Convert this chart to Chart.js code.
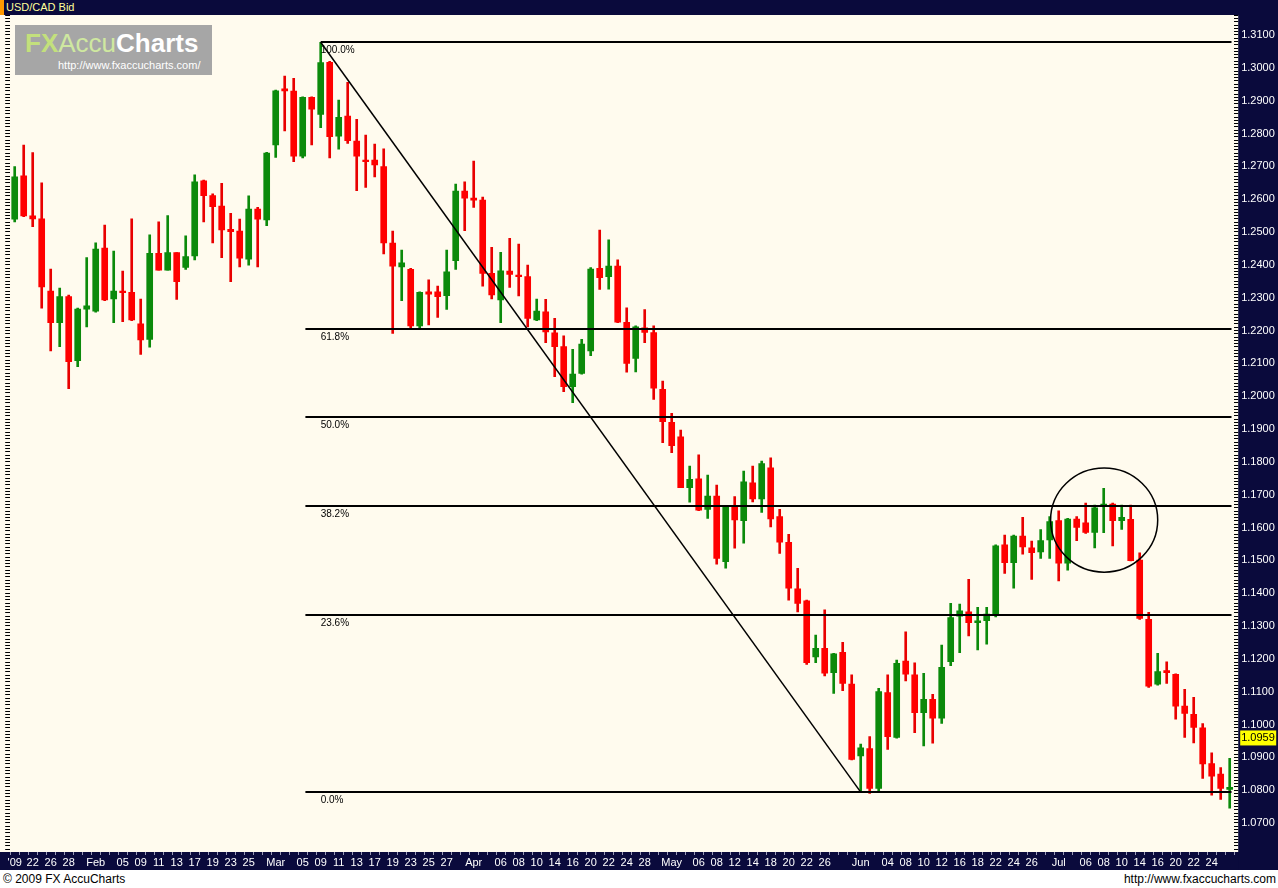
<!DOCTYPE html>
<html>
<head>
<meta charset="utf-8">
<script src="https://cdn.jsdelivr.net/npm/chart.js@4.4.1/dist/chart.umd.min.js"></script>
<style>
    body { margin: 0; width: 1278px; height: 888px; overflow: hidden; background: #fff; position: relative; font-family: 'Liberation Sans', Arial, sans-serif; }
    #title { position: absolute; left: 0; top: 0; width: 1278px; height: 15px; background: #0a0a3c; }
    #title .mark { position: absolute; left: 0; top: 0; width: 4px; height: 15px; background: #ff9a00; }
    #title span { position: absolute; left: 6px; top: 1px; font-size: 11px; line-height: 13px; color: #ffff99; }
    #wrap { position: absolute; left: 0; top: 15px; width: 1278px; height: 855px; }
    #logo { position: absolute; left: 15px; top: 25px; width: 197px; height: 50px; background: #a6a6a6; z-index: 2; }
    #logo .name { position: absolute; left: 10px; top: 4px; font-size: 26px; line-height: 28px; white-space: nowrap; }
    #logo .fx { color: #c3e07c; font-weight: bold; }
    #logo .accu { color: #cfe8a0; }
    #logo .charts { color: #fff; font-weight: bold; }
    #logo .url { position: absolute; left: 43px; top: 34px; font-size: 11px; color: #fff; white-space: nowrap; }
    #foot { position: absolute; left: 0; top: 870px; width: 1278px; height: 18px; background: #fff; font-size: 12px; color: #000; }
    #foot .l { position: absolute; left: 3px; top: 2px; }
    #foot .r { position: absolute; right: 2px; top: 2px; }
</style>
</head>
<body>
<div id="title"><div class="mark"></div><span>USD/CAD Bid</span></div>
<div id="wrap"><canvas id="usdcad"></canvas></div>
<div id="logo">
    <div class="name"><span class="fx">FX</span><span class="accu">Accu</span><span class="charts">Charts</span></div>
    <div class="url">http://www.fxaccucharts.com/</div>
</div>
<div id="foot"><span class="l">© 2009 FX AccuCharts</span><span class="r">http://www.fxaccucharts.com</span></div>
<script>
// napi gyertyák, 2009. jan. 20. - júl. 28.
const opens = [
    1.2539, 1.2671, 1.2549, 1.2540, 1.2320, 1.2224, 1.2303, 1.2108, 1.2265, 1.2259,
    1.2451, 1.2296, 1.2320, 1.2316, 1.2220, 1.2173, 1.2435, 1.2384, 1.2437, 1.2392,
    1.2427, 1.2656, 1.2611, 1.2579, 1.2508, 1.2503, 1.2417, 1.2570, 1.2537, 1.2765,
    1.2936, 1.2929, 1.2731, 1.2910, 1.2858, 1.3017, 1.2792, 1.2853, 1.2777, 1.2719,
    1.2719, 1.2699, 1.2466, 1.2394, 1.2386, 1.2214, 1.2318, 1.2318, 1.2306, 1.2413,
    1.2625, 1.2603, 1.2597, 1.2374, 1.2293, 1.2381, 1.2369, 1.2364, 1.2232, 1.2257,
    1.2193, 1.2151, 1.2029, 1.2069, 1.2138, 1.2389, 1.2364, 1.2396, 1.2225, 1.2115,
    1.2208, 1.2194, 1.2021, 1.1920, 1.1876, 1.1721, 1.1748, 1.1655, 1.1696, 1.1496,
    1.1663, 1.1621, 1.1736, 1.1687, 1.1782, 1.1633, 1.1555, 1.1413, 1.1377, 1.1206,
    1.1232, 1.1158, 1.1220, 1.1123, 1.0904, 1.0927, 1.0805, 1.1097, 1.0961, 1.1193,
    1.1151, 1.1036, 1.1077, 1.1019, 1.1191, 1.1330, 1.1343, 1.1310, 1.1316, 1.1336,
    1.1547, 1.1493, 1.1574, 1.1538, 1.1526, 1.1562, 1.1621, 1.1491, 1.1626, 1.1614,
    1.1585, 1.1665, 1.1671, 1.1621, 1.1625, 1.1501, 1.1320, 1.1123, 1.1164, 1.1153,
    1.1056, 1.1031, 1.0990, 1.0881, 1.0849, 1.0802,
];
const highs = [
    1.2699, 1.2765, 1.2742, 1.2650, 1.2387, 1.2329, 1.2308, 1.2268, 1.2422, 1.2467,
    1.2521, 1.2442, 1.2381, 1.2540, 1.2296, 1.2491, 1.2531, 1.2550, 1.2437, 1.2488,
    1.2674, 1.2658, 1.2616, 1.2648, 1.2557, 1.2539, 1.2610, 1.2575, 1.2743, 1.2932,
    1.2975, 1.2968, 1.2912, 1.2912, 1.3078, 1.3020, 1.2902, 1.2956, 1.2843, 1.2795,
    1.2768, 1.2753, 1.2503, 1.2445, 1.2389, 1.2318, 1.2354, 1.2335, 1.2445, 1.2646,
    1.2653, 1.2716, 1.2606, 1.2453, 1.2438, 1.2481, 1.2463, 1.2399, 1.2296, 1.2295,
    1.2237, 1.2184, 1.2143, 1.2173, 1.2392, 1.2506, 1.2476, 1.2415, 1.2269, 1.2214,
    1.2264, 1.2214, 1.2046, 1.1948, 1.1897, 1.1787, 1.1821, 1.1760, 1.1729, 1.1666,
    1.1694, 1.1772, 1.1787, 1.1802, 1.1812, 1.1655, 1.1579, 1.1476, 1.1379, 1.1272,
    1.1349, 1.1217, 1.1250, 1.1151, 1.0940, 1.0963, 1.1110, 1.1151, 1.1196, 1.1282,
    1.1188, 1.1156, 1.1092, 1.1242, 1.1369, 1.1367, 1.1442, 1.1357, 1.1357, 1.1547,
    1.1577, 1.1577, 1.1631, 1.1559, 1.1594, 1.1633, 1.1651, 1.1628, 1.1633, 1.1674,
    1.1668, 1.1719, 1.1674, 1.1668, 1.1668, 1.1523, 1.1342, 1.1217, 1.1191, 1.1154,
    1.1107, 1.1083, 1.1003, 1.0914, 1.0869, 1.0897,
];
const lows = [
    1.2531, 1.2547, 1.2516, 1.2268, 1.2138, 1.2151, 1.2023, 1.2090, 1.2211, 1.2256,
    1.2291, 1.2224, 1.2227, 1.2230, 1.2127, 1.2149, 1.2384, 1.2384, 1.2295, 1.2386,
    1.2415, 1.2531, 1.2467, 1.2422, 1.2349, 1.2394, 1.2399, 1.2394, 1.2519, 1.2727,
    1.2808, 1.2714, 1.2726, 1.2765, 1.2818, 1.2726, 1.2752, 1.2770, 1.2626, 1.2636,
    1.2668, 1.2433, 1.2191, 1.2291, 1.2207, 1.2207, 1.2217, 1.2240, 1.2264, 1.2386,
    1.2504, 1.2575, 1.2335, 1.2296, 1.2224, 1.2331, 1.2305, 1.2211, 1.2230, 1.2163,
    1.2059, 1.2014, 1.1980, 1.2067, 1.2123, 1.2325, 1.2326, 1.2224, 1.2073, 1.2074,
    1.2163, 1.1990, 1.1858, 1.1828, 1.1721, 1.1677, 1.1651, 1.1628, 1.1488, 1.1476,
    1.1537, 1.1552, 1.1678, 1.1646, 1.1602, 1.1521, 1.1379, 1.1343, 1.1183, 1.1188,
    1.1148, 1.1095, 1.1103, 1.0892, 1.0794, 1.0790, 1.0792, 1.0924, 1.0958, 1.1133,
    1.0975, 1.0935, 1.0943, 1.1003, 1.1179, 1.1219, 1.1270, 1.1227, 1.1245, 1.1328,
    1.1460, 1.1415, 1.1519, 1.1442, 1.1506, 1.1506, 1.1437, 1.1470, 1.1560, 1.1582,
    1.1538, 1.1584, 1.1544, 1.1594, 1.1498, 1.1320, 1.1113, 1.1120, 1.1125, 1.1016,
    1.0961, 1.0944, 1.0836, 1.0785, 1.0772, 1.0745,
];
const closes = [
    1.2668, 1.2549, 1.2540, 1.2333, 1.2224, 1.2303, 1.2105, 1.2265, 1.2275, 1.2448,
    1.2293, 1.2320, 1.2315, 1.2232, 1.2171, 1.2435, 1.2384, 1.2437, 1.2349, 1.2425,
    1.2653, 1.2611, 1.2577, 1.2506, 1.2501, 1.2420, 1.2570, 1.2539, 1.2740, 1.2930,
    1.2930, 1.2731, 1.2910, 1.2874, 1.3016, 1.2790, 1.2849, 1.2778, 1.2731, 1.2714,
    1.2704, 1.2467, 1.2396, 1.2406, 1.2214, 1.2316, 1.2311, 1.2303, 1.2379, 1.2625,
    1.2603, 1.2597, 1.2374, 1.2308, 1.2382, 1.2371, 1.2364, 1.2237, 1.2259, 1.2196,
    1.2151, 1.2029, 1.2067, 1.2159, 1.2387, 1.2361, 1.2396, 1.2225, 1.2100, 1.2211,
    1.2194, 1.2024, 1.1922, 1.1849, 1.1721, 1.1747, 1.1653, 1.1696, 1.1506, 1.1663,
    1.1623, 1.1739, 1.1687, 1.1795, 1.1626, 1.1555, 1.1415, 1.1369, 1.1188, 1.1232,
    1.1156, 1.1215, 1.1125, 1.0894, 1.0929, 1.0805, 1.1100, 1.0963, 1.1186, 1.1153,
    1.1036, 1.1077, 1.1019, 1.1174, 1.1326, 1.1346, 1.1310, 1.1316, 1.1336, 1.1544,
    1.1493, 1.1574, 1.1541, 1.1523, 1.1560, 1.1618, 1.1491, 1.1626, 1.1600, 1.1585,
    1.1660, 1.1671, 1.1621, 1.1631, 1.1499, 1.1323, 1.1117, 1.1161, 1.1158, 1.1056,
    1.1034, 1.0991, 1.0880, 1.0843, 1.0805, 1.0809,
];

// x tengely feliratai (gyertya sorszáma -> szöveg)
const tickIndex = [0, 2, 4, 6, 9, 12, 14, 16, 18, 20, 22, 24, 26, 29, 32, 34, 36, 38, 40, 42, 44, 46, 48,
    51, 54, 56, 58, 60, 62, 64, 66, 68, 70, 73, 76, 78, 80, 82, 84, 86, 88, 90,
    94, 97, 99, 101, 103, 105, 107, 109, 111, 113, 116, 119, 121, 123, 125, 127, 129, 131, 133];
const tickText = ["'09", '22', '26', '28', 'Feb', '05', '09', '11', '13', '17', '19', '23', '25', 'Mar', '05', '09', '11', '13', '17', '19', '23', '25', '27',
    'Apr', '06', '08', '10', '14', '16', '20', '22', '24', '28', 'May', '06', '08', '12', '14', '18', '20', '22', '26',
    'Jun', '04', '08', '10', '12', '16', '18', '22', '24', '26', 'Jul', '06', '08', '10', '14', '16', '20', '22', '24'];

const priceTicks = [1.07, 1.08, 1.09, 1.10, 1.11, 1.12, 1.13, 1.14, 1.15, 1.16, 1.17, 1.18, 1.19,
    1.20, 1.21, 1.22, 1.23, 1.24, 1.25, 1.26, 1.27, 1.28, 1.29, 1.30, 1.31];

// Fibonacci visszatérés
const fibHigh = 1.3078;
const fibLow = 1.0794;
const fibRatios = [1, 0.618, 0.5, 0.382, 0.236, 0];
const fibLabels = ['100.0%', '61.8%', '50.0%', '38.2%', '23.6%', '0.0%'];
const trendFrom = 34;
const trendTo = 94;
const circleX = [115.1, 127.0];
const circleY = [1.1464, 1.1781];
const lastPrice = 1.0959;

const labels = opens.map(() => '');
tickIndex.forEach((idx, k) => { labels[idx] = tickText[k]; });

const green = '#0b8a0b';
const red = '#ff0000';
const candleColor = c => closes[c.dataIndex] >= opens[c.dataIndex] ? green : red;
const wickColor = c => closes[c.dataIndex] >= opens[c.dataIndex] ? green : '#e80000';

const yMax = 1.316091;
const yMin = 1.061167;
// sűrű osztásjelek, felirat csak a kerek árakon
const axisTicks = [];
for (let k = Math.ceil(yMin * 1000); k <= Math.floor(yMax * 1000); k++) {
    axisTicks.push({ value: k / 1000 });
}
const isMajor = v => priceTicks.some(p => Math.abs(p - v) < 1e-7);
const tickLabel = v => isMajor(v) ? v.toFixed(4) : '';
const noPad = s => { s.paddingTop = 0; s.paddingBottom = 0; };

Chart.defaults.font.family = "'Liberation Sans', Arial, sans-serif";
Chart.defaults.font.size = 11;

const backdrop = {
    id: 'backdrop',
    beforeDraw(chart) {
        const { ctx, chartArea, width, height } = chart;
        ctx.save();
        ctx.fillStyle = '#fffbee';
        ctx.fillRect(0, 0, width, height);
        ctx.fillStyle = '#0a0a3c';
        ctx.fillRect(0, chartArea.bottom, width, height - chartArea.bottom);
        ctx.fillRect(chartArea.right + 4, 0, width - chartArea.right - 4, height);
        ctx.restore();
    },
};

const fibonacci = {
    id: 'fibonacci',
    afterDatasetsDraw(chart) {
        const { ctx, scales } = chart;
        const x = scales.x;
        const y = scales.y;
        ctx.save();
        ctx.strokeStyle = '#000';
        ctx.fillStyle = '#000';
        ctx.font = "10px 'Liberation Sans', Arial, sans-serif";
        ctx.textBaseline = 'middle';
        const x0 = x.getPixelForValue(trendFrom - 1.7);
        const x1 = x.getPixelForValue(opens.length - 1 + 0.2);
        fibRatios.forEach((r, k) => {
            const py = Math.round(y.getPixelForValue(fibLow + r * (fibHigh - fibLow)));
            ctx.lineWidth = 2;
            ctx.beginPath();
            ctx.moveTo(r === 1 ? x.getPixelForValue(trendFrom) : x0, py);
            ctx.lineTo(x1, py);
            ctx.stroke();
            ctx.fillText(fibLabels[k], x.getPixelForValue(trendFrom), py + 8);
        });
        ctx.lineWidth = 1.5;
        ctx.beginPath();
        ctx.moveTo(x.getPixelForValue(trendFrom), y.getPixelForValue(fibHigh));
        ctx.lineTo(x.getPixelForValue(trendTo), y.getPixelForValue(fibLow));
        ctx.stroke();

        const l = x.getPixelForValue(circleX[0]);
        const r = x.getPixelForValue(circleX[1]);
        const t = y.getPixelForValue(circleY[1]);
        const b = y.getPixelForValue(circleY[0]);
        ctx.beginPath();
        ctx.ellipse((l + r) / 2, (t + b) / 2, (r - l) / 2, (b - t) / 2, 0, 0, Math.PI * 2);
        ctx.stroke();

        // aktuális ár címke
        const py = y.getPixelForValue(lastPrice);
        const left = chart.chartArea.right + 6;
        ctx.fillStyle = '#ffff00';
        ctx.fillRect(left, py - 7.5, 36, 15);
        ctx.fillStyle = '#000';
        ctx.font = "11px 'Liberation Sans', Arial, sans-serif";
        ctx.fillText(lastPrice.toFixed(4), left + 1, py + 0.5);
        ctx.restore();
    },
};

new Chart(document.querySelector('#usdcad'), {
    type: 'bar',
    data: {
        labels: labels,
        datasets: [
            {
                label: 'High-Low',
                data: lows.map((l, i) => [l, highs[i]]),
                backgroundColor: wickColor,
                barThickness: 2,
                grouped: false,
                order: 2,
                yAxisID: 'y',
            },
            {
                label: 'Open-Close',
                data: opens.map((o, i) => [o, closes[i]]),
                backgroundColor: candleColor,
                barThickness: 6,
                grouped: false,
                order: 1,
                yAxisID: 'y',
            },
        ],
    },
    options: {
        responsive: true,
        maintainAspectRatio: false,
        animation: false,
        layout: { padding: 0 },
        plugins: {
            legend: { display: false },
            tooltip: { enabled: false },
        },
        scales: {
            x: {
                offset: true,
                grid: { drawOnChartArea: false, tickLength: 3, color: '#9a9ab8' },
                border: { display: false },
                ticks: { color: '#ffffff', autoSkip: false, maxRotation: 0, minRotation: 0, padding: 1 },
                afterFit(s) { s.height = 18; s.paddingLeft = 0; s.paddingRight = 0; },
            },
            y: {
                position: 'right',
                min: yMin,
                max: yMax,
                grid: { drawOnChartArea: false, tickLength: 4, color: '#000' },
                border: { display: false },
                afterBuildTicks(s) { s.ticks = axisTicks.map(t => ({ value: t.value })); },
                ticks: { color: '#ffffff', padding: 3, autoSkip: false, callback: tickLabel },
                afterFit(s) { s.width = 43.8; noPad(s); },
            },
            yl: {
                position: 'left',
                min: yMin,
                max: yMax,
                grid: { drawOnChartArea: false, tickLength: 5, color: '#000' },
                border: { display: false },
                afterBuildTicks(s) { s.ticks = axisTicks.map(t => ({ value: t.value })); },
                ticks: { display: false },
                afterFit(s) { s.width = 10.2; noPad(s); },
            },
        },
    },
    plugins: [backdrop, fibonacci],
});
</script>
</body>
</html>
